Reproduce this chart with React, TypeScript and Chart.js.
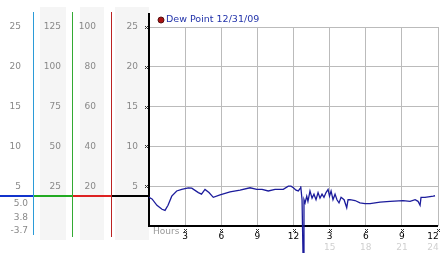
import React, { useEffect, useRef } from "react";
import { Chart, registerables } from "chart.js";

Chart.register(...registerables);

const seriesLabel = "Dew Point 12/31/09";
const hours = [
  0, 0.25, 0.66, 1.08, 1.33, 1.58, 1.89, 2.3, 2.72, 3.26, 3.55, 4.1, 4.36, 4.65, 4.98, 5.34, 5.9,
  6.73, 7.56, 8.39, 8.95, 9.39, 9.9, 10.47, 11.15, 11.57, 11.79, 11.99, 12.21, 12.4, 12.54, 12.6,
  12.71, 12.79, 12.87, 12.96, 13.1, 13.2, 13.37, 13.54, 13.7, 13.87, 14.04, 14.2, 14.37, 14.53,
  14.7, 14.87, 14.99, 15.12, 15.28, 15.45, 15.61, 15.78, 15.95, 16.2, 16.42, 16.53, 16.69, 17.11,
  17.52, 17.94, 18.36, 19.19, 20.02, 21.1, 21.68, 22.1, 22.34, 22.51, 22.59, 22.92, 23.61, 23.75,
];
const dewPoint = [
  3.6, 3.4, 2.6, 2.1, 1.96, 2.6, 3.75, 4.4, 4.6, 4.8, 4.75, 4.2, 4.0, 4.6, 4.2, 3.6, 3.9,
  4.3, 4.5, 4.8, 4.6, 4.6, 4.4, 4.6, 4.6, 5.0, 5.0, 4.8, 4.5, 4.4, 4.7, 5.0,
  3.3, -3.7, 3.3, 2.9, 3.75, 3.1, 4.4, 3.5, 4.0, 3.3, 4.2, 3.5, 4.0, 3.6,
  4.2, 4.6, 3.75, 4.4, 3.3, 4.0, 3.3, 2.9, 3.6, 3.3, 2.3, 3.3, 3.3, 3.2,
  2.9, 2.8, 2.8, 3.0, 3.1, 3.2, 3.1, 3.3, 3.1, 2.6, 3.6, 3.6, 3.75, 3.8,
];
const yTickValues = [5, 10, 15, 20, 25];
const col1Labels = ["5", "10", "15", "20", "25"];
const col2Labels = ["25", "50", "75", "100", "125"];
const col3Labels = ["20", "40", "60", "80", "100"];
const col4Labels = ["5", "10", "15", "20", "25"];
const statLabels = ["5.0", "3.8", "-3.7"];
const currentValue = 3.8;
const xTickValues = [3, 6, 9, 12, 15, 18, 21, 24];
const xTickLabels = ["3", "6", "9", "12", "3", "6", "9", "12"];
const xTickLabels2 = ["", "", "", "", "15", "18", "21", "24"];

const FONT = "9px 'DejaVu Sans'";

function mark(ctx: CanvasRenderingContext2D, x: number, y: number) {
  x = Math.round(x);
  y = Math.round(y);
  ctx.fillStyle = "#333";
  ctx.fillRect(x - 1, y - 1, 1, 1);
  ctx.fillRect(x + 1, y - 1, 1, 1);
  ctx.fillRect(x, y, 1, 1);
  ctx.fillRect(x - 1, y + 1, 1, 1);
  ctx.fillRect(x + 1, y + 1, 1, 1);
}

const decor = {
  id: "decor",
  beforeDraw(chart: any) {
    const ctx: CanvasRenderingContext2D = chart.ctx;
    const ys = chart.scales.y;
    ctx.save();
    ctx.fillStyle = "#fff";
    ctx.fillRect(0, 0, chart.width, chart.height);
    ctx.fillStyle = "#f5f5f5";
    ctx.fillRect(40, 7, 26, 233);
    ctx.fillRect(80, 7, 24, 233);
    ctx.fillRect(115, 7, 34, 233);
    ctx.font = FONT;
    ctx.fillStyle = "#888";
    ctx.textAlign = "right";
    ctx.textBaseline = "middle";
    yTickValues.forEach((v, i) => {
      const y = ys.getPixelForValue(v);
      ctx.fillText(col1Labels[i], 21, y);
      ctx.fillText(col2Labels[i], 61, y);
      ctx.fillText(col3Labels[i], 96, y);
      ctx.fillText(col4Labels[i], 138, y);
    });
    statLabels.forEach((s, i) => {
      ctx.fillText(s, 28, 204 + i * 13.5);
    });
    const vl = (x: number, c: string, y2: number) => {
      ctx.fillStyle = c;
      ctx.fillRect(x, 12, 1, y2 - 12);
    };
    vl(33, "#2b9bd8", 235);
    vl(72, "#33aa33", 237);
    vl(111, "#bb2222", 237);
    const cy = Math.round(ys.getPixelForValue(currentValue)) - 1;
    ctx.fillStyle = "#1133cc";
    ctx.fillRect(0, cy, 33, 2);
    ctx.fillStyle = "#22aa22";
    ctx.fillRect(34, cy, 38, 2);
    ctx.fillStyle = "#dd2222";
    ctx.fillRect(73, cy, 38, 2);
    ctx.fillStyle = "#000";
    ctx.fillRect(112, cy, 37, 2);
    ctx.restore();
  },
  beforeDatasetsDraw(chart: any) {
    const ctx: CanvasRenderingContext2D = chart.ctx;
    const xs = chart.scales.x;
    const ys = chart.scales.y;
    const a = chart.chartArea;
    ctx.save();
    ctx.fillStyle = "#000";
    ctx.fillRect(Math.round(a.left) - 1, 13, 2, Math.round(a.bottom) - 13);
    ctx.fillRect(Math.round(a.left) - 1, Math.round(a.bottom) - 1, Math.round(a.right - a.left) + 1, 2);
    yTickValues.forEach((v) => mark(ctx, a.left - 3, ys.getPixelForValue(v)));
    ctx.font = FONT;
    ctx.textBaseline = "middle";
    ctx.textAlign = "left";
    ctx.fillStyle = "#999";
    ctx.fillText("Hours", a.left + 4, 232);
    xTickValues.forEach((v, i) => {
      const x = xs.getPixelForValue(v);
      mark(ctx, x, 230);
      ctx.textAlign = "center";
      ctx.fillStyle = "#000";
      const lx = Math.min(x, chart.width - 9);
      ctx.fillText(xTickLabels[i], lx, 237);
      if (xTickLabels2[i]) {
        ctx.fillStyle = "#d0d0d0";
        ctx.fillText(xTickLabels2[i], lx, 248);
      }
    });
    ctx.beginPath();
    ctx.arc(161, 20, 3, 0, Math.PI * 2);
    ctx.fillStyle = "#aa1111";
    ctx.fill();
    ctx.strokeStyle = "#551111";
    ctx.lineWidth = 1;
    ctx.stroke();
    ctx.fillStyle = "#2233aa";
    ctx.textAlign = "left";
    ctx.font = "9.5px 'DejaVu Sans'";
    ctx.fillText(chart.data.datasets[0].label, 166, 20);
    ctx.restore();
  },
};

export default function App() {
  const ref = useRef<HTMLCanvasElement>(null);
  useEffect(() => {
    document.body.style.margin = "0";
    const chart = new Chart(ref.current!, {
      type: "line",
      data: {
        datasets: [
          {
            label: seriesLabel,
            data: hours.map((h, i) => ({ x: h, y: dewPoint[i] })),
            borderColor: "#1c1c9c",
            borderWidth: 1.3,
            pointRadius: 0,
            tension: 0,
            clip: false as any,
          },
        ],
      },
      options: {
        animation: false,
        responsive: false,
        maintainAspectRatio: false,
        layout: { padding: { left: 149, top: 27, right: 4, bottom: 27 } },
        plugins: { legend: { display: false }, tooltip: { enabled: false } },
        scales: {
          x: {
            type: "linear",
            min: 0,
            max: 24,
            ticks: { display: false, stepSize: 3 },
            grid: { color: "#bbb", drawTicks: false },
            border: { display: false },
          },
          y: {
            min: 0,
            max: 25,
            ticks: { display: false, stepSize: 5 },
            grid: { color: "#bbb", drawTicks: false },
            border: { display: false },
          },
        },
      },
      plugins: [decor],
    });
    return () => chart.destroy();
  }, []);
  return (
    <div style={{ position: "absolute", left: 0, top: 0, width: 442, height: 253 }}>
      <canvas ref={ref} width={442} height={253} style={{ width: 442, height: 253 }} />
    </div>
  );
}
